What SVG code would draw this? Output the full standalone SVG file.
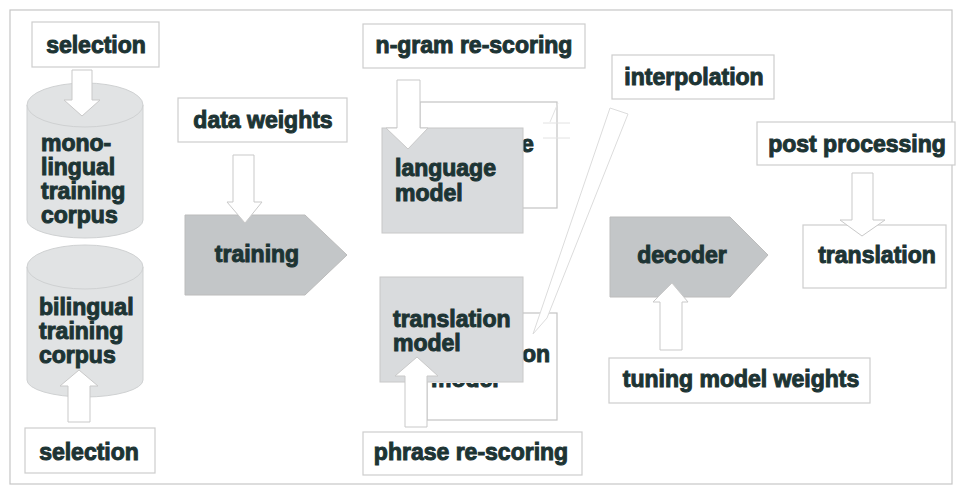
<svg xmlns="http://www.w3.org/2000/svg" width="962" height="488" viewBox="0 0 962 488">
<style>
.lbl{fill:#ffffff;stroke:#cdcdcd;stroke-width:1.2}
.back{fill:#ffffff;stroke:#c4c4c4;stroke-width:1.2}
.front{fill:#d9dbdd;stroke:#c8c8c8;stroke-width:1}
.pent{fill:#c3c6c8;stroke:#bcbcbc;stroke-width:1}
.cyl{fill:#e1e3e4;stroke:#cfd1d2;stroke-width:1}
.rim{fill:none;stroke:#cfd1d2;stroke-width:1}
.arr{fill:#ffffff;stroke:#c9c9c9;stroke-width:1}
.faint{fill:none;stroke:#e2e2e2;stroke-width:1}
.t{font-family:"Liberation Sans",Arial,sans-serif;font-weight:bold;font-size:23px;fill:#1d3434;stroke:#1d3434;stroke-width:1}
.tc{text-anchor:middle}
</style>
<defs>
<clipPath id="modelClip"><rect x="420" y="383" width="140" height="8"/></clipPath>
</defs>
<rect x="0" y="0" width="962" height="488" fill="#ffffff"/>
<rect x="10" y="10" width="942" height="474" fill="none" stroke="#c6c6c6" stroke-width="1.2"/>

<g id="mono-corpus">
<path class="cyl" d="M27,105 A58,22 0 0 1 143,105 L143,220 A58,18 0 0 1 27,220 Z"/>
<path class="rim" d="M27,105 A58,22 0 0 0 143,105"/>
<text class="t" x="41" y="151">mono-</text>
<text class="t" x="41" y="175">lingual</text>
<text class="t" x="41" y="199">training</text>
<text class="t" x="41" y="223">corpus</text>
</g>

<g id="bi-corpus">
<path class="cyl" d="M27,267 A58,22 0 0 1 143,267 L143,380 A58,17 0 0 1 27,380 Z"/>
<path class="rim" d="M27,267 A58,22 0 0 0 143,267"/>
<text class="t" x="39" y="315">bilingual</text>
<text class="t" x="39" y="339">training</text>
<text class="t" x="39" y="363">corpus</text>
</g>

<g id="training">
<path class="pent" d="M185,215 L305,215 L347,255 L305,295 L185,295 Z"/>
<text class="t tc" x="257" y="262">training</text>
</g>

<g id="lm-back">
<rect class="back" x="420" y="102" width="137" height="106"/>
<text class="t" x="521" y="152">e</text>
</g>

<g id="tm-back">
<rect class="back" x="427" y="313" width="130" height="107"/>
<text class="t" x="522" y="362">on</text>
<text class="t" x="431" y="387" clip-path="url(#modelClip)">model</text>
</g>

<g id="connectors">
<path d="M610,108 L628,114 L547,318 L533,334 Z" fill="#ffffff" stroke="#dcdcdc" stroke-width="1"/>
<path class="faint" d="M543,123 L570,123 M543,138 L570,138 M550,122 L558,103"/>
</g>

<g id="language-model">
<rect class="front" x="382" y="128" width="141" height="105"/>
<text class="t" x="395" y="176">language</text>
<text class="t" x="395" y="201">model</text>
</g>

<g id="translation-model">
<rect class="front" x="380" y="277" width="143" height="105"/>
<text class="t" x="393" y="327">translation</text>
<text class="t" x="393" y="351">model</text>
</g>

<g id="decoder">
<path class="pent" d="M610,217 L730,217 L768,255 L730,297 L610,297 Z"/>
<text class="t tc" x="682" y="263">decoder</text>
</g>

<g id="translation">
<rect class="lbl" x="803" y="225" width="143" height="63"/>
<text class="t tc" x="877" y="263">translation</text>
</g>

<g id="arrows">
<path class="arr" d="M72,70 L92,70 L92,100 L100,100 L82,116 L64,100 L72,100 Z"/>
<path class="arr" d="M68,422 L90,422 L90,386 L98,386 L79,370 L60,386 L68,386 Z"/>
<path class="arr" d="M233,155 L254,155 L254,202 L262,202 L245,223 L227,202 L233,202 Z"/>
<path class="arr" d="M397,80 L420,80 L420,128 L428,128 L408,149 L386,128 L397,128 Z"/>
<path class="arr" d="M405,427 L427,427 L427,376 L438,376 L417,357 L395,376 L405,376 Z"/>
<path class="arr" d="M660,350 L682,350 L682,302 L688,302 L672,283 L653,302 L660,302 Z"/>
<path class="arr" d="M852,173 L873,173 L873,220 L885,220 L862,236 L840,220 L852,220 Z"/>
</g>

<g id="selection-top">
<rect class="lbl" x="32" y="22" width="127" height="45"/>
<text class="t tc" x="96" y="53">selection</text>
</g>
<g id="selection-bottom">
<rect class="lbl" x="25" y="428" width="130" height="45"/>
<text class="t tc" x="89" y="460">selection</text>
</g>
<g id="data-weights">
<rect class="lbl" x="178" y="98" width="169" height="44"/>
<text class="t tc" x="263" y="128">data weights</text>
</g>
<g id="ngram">
<rect class="lbl" x="363" y="24" width="222" height="44"/>
<text class="t tc" x="474" y="53">n-gram re-scoring</text>
</g>
<g id="phrase">
<rect class="lbl" x="363" y="432" width="219" height="43"/>
<text class="t tc" x="471" y="460">phrase re-scoring</text>
</g>
<g id="interpolation">
<rect class="lbl" x="612" y="55" width="162" height="44"/>
<text class="t tc" x="694" y="85">interpolation</text>
</g>
<g id="post-processing">
<rect class="lbl" x="757" y="122" width="198" height="43"/>
<text class="t tc" x="857" y="152">post processing</text>
</g>
<g id="tuning">
<rect class="lbl" x="609" y="358" width="261" height="45"/>
<text class="t tc" x="741" y="387">tuning model weights</text>
</g>
</svg>
